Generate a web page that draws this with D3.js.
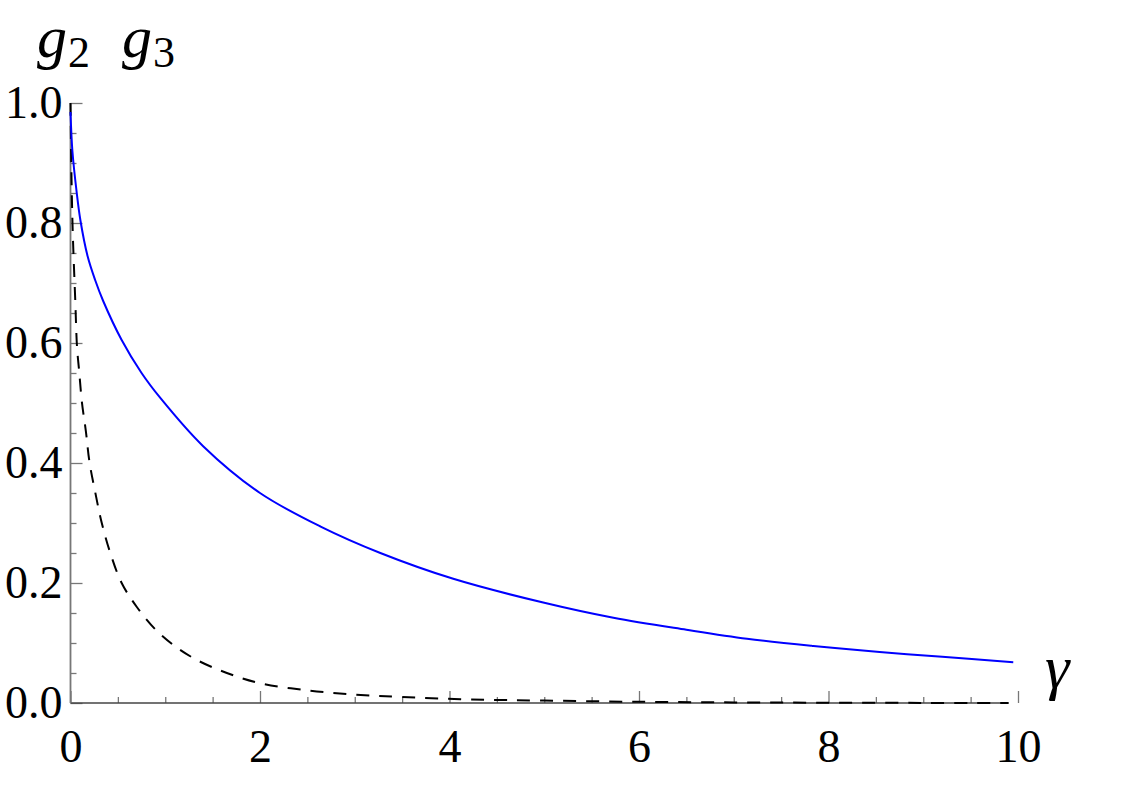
<!DOCTYPE html>
<html>
<head>
<meta charset="utf-8">
<script src="https://cdn.jsdelivr.net/npm/d3@7/dist/d3.min.js"></script>
<style>
  html, body { margin: 0; padding: 0; background: #fff; }
  svg { display: block; }
</style>
</head>
<body>
<svg id="chart" width="1123" height="794"></svg>
<script>
// ---- data ----
const g2Gamma = [0, 0.02, 0.066, 0.104, 0.18, 0.26, 0.345, 0.54, 0.75, 0.95, 1.4, 2.0, 2.64, 3.27, 4.04, 5.0, 5.73, 6.5, 7.14, 7.84, 8.54, 9.2, 9.95];
const g2Values = [0.985, 0.92, 0.85, 0.805, 0.745, 0.705, 0.67, 0.605, 0.55, 0.508, 0.428, 0.35, 0.294, 0.25, 0.207, 0.167, 0.142, 0.122, 0.107, 0.095, 0.085, 0.077, 0.068];
const g3Gamma = [0, 0.01, 0.024, 0.05, 0.069, 0.092, 0.12, 0.163, 0.2, 0.26, 0.33, 0.42, 0.54, 0.7, 0.9, 1.1, 1.33, 1.65, 2.0, 2.5, 3.0, 3.5, 4.2, 5, 6, 7, 8, 9, 9.9];
const g3Values = [1.0, 0.88, 0.783, 0.672, 0.593, 0.552, 0.502, 0.452, 0.402, 0.352, 0.30, 0.25, 0.20, 0.16, 0.122, 0.095, 0.072, 0.05, 0.033, 0.021, 0.014, 0.010, 0.006, 0.004, 0.002, 0.001, 0.0005, 0.0002, 0.0001];
const xMajorTicks = [0, 2, 4, 6, 8, 10];
const xMinorTicks = [0.5, 1, 1.5, 2.5, 3, 3.5, 4.5, 5, 5.5, 6.5, 7, 7.5, 8.5, 9, 9.5];
const yMajorTicks = [0, 0.2, 0.4, 0.6, 0.8, 1.0];
const yMinorTicks = [0.05, 0.1, 0.15, 0.25, 0.3, 0.35, 0.45, 0.5, 0.55, 0.65, 0.7, 0.75, 0.85, 0.9, 0.95];
const xAxisEnd = 9.9;

// ---- layout ----
const serif = "Liberation Serif";
const svg = d3.select("#chart");
const x = d3.scaleLinear().domain([0, 10]).range([70.5, 1018]);
const y = d3.scaleLinear().domain([0, 1]).range([703, 103]);

function styleTicks(g) {
  g.attr("font-family", serif).attr("font-size", 46);
  g.select(".domain").remove();
  g.selectAll(".tick line").attr("stroke", "#777").attr("stroke-width", 1.3);
  g.selectAll(".tick text").attr("font-family", serif).attr("font-size", 46).attr("fill", "#000");
}

// minor ticks
svg.append("g").attr("transform", `translate(0,${y(0)})`)
  .call(d3.axisBottom(x).tickValues(xMinorTicks).tickSize(-6).tickFormat(""))
  .call(styleTicks);
svg.append("g").attr("transform", `translate(${x(0)},0)`)
  .call(d3.axisLeft(y).tickValues(yMinorTicks).tickSize(-6).tickFormat(""))
  .call(styleTicks);

// major ticks + labels
svg.append("g").attr("transform", `translate(0,${y(0)})`)
  .call(d3.axisBottom(x).tickValues(xMajorTicks).tickSize(-12).tickPadding(26).tickFormat(d3.format("d")))
  .call(styleTicks);
svg.append("g").attr("transform", `translate(${x(0)},0)`)
  .call(d3.axisLeft(y).tickValues(yMajorTicks).tickSize(-12).tickPadding(8).tickFormat(d3.format(".1f")))
  .call(styleTicks);

// axis lines
svg.append("line")
  .attr("x1", x(0)).attr("x2", x(xAxisEnd)).attr("y1", y(0)).attr("y2", y(0))
  .attr("stroke", "#444").attr("stroke-width", 1.6);
svg.append("line")
  .attr("x1", x(0)).attr("x2", x(0)).attr("y1", y(0)).attr("y2", y(1))
  .attr("stroke", "#777").attr("stroke-width", 1.8);

// curves
const line = d3.line().x(d => x(d[0])).y(d => y(d[1])).curve(d3.curveCatmullRom.alpha(0.5));
svg.append("path")
  .datum(g3Gamma.map((g, i) => [g, g3Values[i]]))
  .attr("d", line).attr("fill", "none")
  .attr("stroke", "#000").attr("stroke-width", 2).attr("stroke-dasharray", "13,10");
svg.append("path")
  .datum(g2Gamma.map((g, i) => [g, g2Values[i]]))
  .attr("d", line).attr("fill", "none")
  .attr("stroke", "#0000ff").attr("stroke-width", 2);

// axis labels
function gLabel(xpos, sub) {
  const t = svg.append("text").attr("x", xpos).attr("y", 57)
    .attr("font-family", serif).attr("fill", "#000");
  t.append("tspan").attr("font-style", "italic").attr("font-size", 60).text("g");
  t.append("tspan").attr("font-size", 44).attr("dy", 10).attr("dx", 1).text(sub);
}
gLabel(37, "2");
gLabel(122, "3");
svg.append("text").attr("x", 1045).attr("y", 688)
  .attr("font-family", serif).attr("font-style", "italic").attr("font-size", 62)
  .attr("fill", "#000").text("γ");
</script>
</body>
</html>
